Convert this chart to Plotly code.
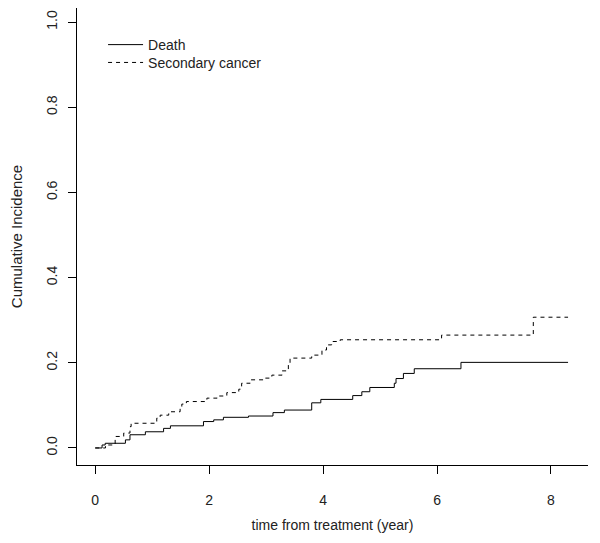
import plotly.graph_objects as go

# Death (solid) cumulative incidence step points
death_time = [0.0, 0.12, 0.175, 0.53, 0.61, 0.88, 1.20, 1.32, 1.90, 2.08, 2.25, 2.69,
              3.12, 3.32, 3.80, 3.96, 4.52, 4.68, 4.82, 5.25, 5.28, 5.41, 5.60, 6.42, 8.30]
death_ci = [0.0, 0.007, 0.011, 0.019, 0.031, 0.038, 0.046, 0.052, 0.062, 0.066, 0.072, 0.075,
            0.083, 0.089, 0.106, 0.114, 0.123, 0.132, 0.142, 0.152, 0.163, 0.175, 0.186, 0.201, 0.201]

# Secondary cancer (dashed) cumulative incidence step points
cancer_time = [0.0, 0.18, 0.35, 0.50, 0.61, 0.63, 1.08, 1.14, 1.29, 1.49, 1.52, 1.60,
               1.96, 2.14, 2.31, 2.52, 2.57, 2.72, 2.95, 3.10, 3.28, 3.39, 3.42, 3.80,
               3.98, 4.06, 4.15, 4.30, 6.08, 7.69, 8.30]
cancer_ci = [0.0, 0.007, 0.027, 0.035, 0.050, 0.058, 0.070, 0.077, 0.085, 0.093, 0.103, 0.109,
             0.117, 0.122, 0.130, 0.138, 0.152, 0.160, 0.164, 0.171, 0.181, 0.195, 0.211, 0.218,
             0.230, 0.242, 0.250, 0.254, 0.265, 0.307, 0.307]

x_ticks = [0, 2, 4, 6, 8]
x_tick_labels = ["0", "2", "4", "6", "8"]
y_ticks = [0.0, 0.2, 0.4, 0.6, 0.8, 1.0]
y_tick_labels = ["0.0", "0.2", "0.4", "0.6", "0.8", "1.0"]

FONT = "Liberation Sans, Arial, sans-serif"
TXT = "#222222"

fig = go.Figure()
fig.add_trace(go.Scatter(x=death_time, y=death_ci, mode="lines", name="Death",
                         legend="legend",
                         line=dict(color="#000000", width=1, shape="hv")))
fig.add_trace(go.Scatter(x=cancer_time, y=cancer_ci, mode="lines", name="Secondary cancer",
                         legend="legend2",
                         line=dict(color="#000000", width=1, shape="hv", dash="4px,4px")))

leg_common = dict(xanchor="left", yanchor="top", bgcolor="rgba(0,0,0,0)", borderwidth=0,
                  font=dict(family=FONT, size=14, color=TXT), itemwidth=35)

fig.update_layout(
    width=592, height=535,
    margin=dict(l=69, r=12, t=0, b=78),
    paper_bgcolor="white", plot_bgcolor="white",
    font=dict(family=FONT, size=14, color=TXT),
    showlegend=True,
    legend=dict(x=0.051, y=0.954, **leg_common),
    legend2=dict(x=0.051, y=0.915, **leg_common),
)
fig.update_xaxes(
    range=[-0.32, 8.65], showgrid=False, zeroline=False,
    showline=True, linecolor="#000000", linewidth=1,
    ticks="outside", ticklen=8, tickcolor="#000000", tickwidth=1,
    tickvals=x_ticks, ticktext=x_tick_labels, ticklabelstandoff=14,
    title=dict(text="time from treatment (year)", standoff=13,
               font=dict(family=FONT, size=14, color=TXT)),
    automargin=False,
)
fig.update_yaxes(
    range=[-0.04, 1.033], showgrid=False, zeroline=False,
    showline=True, linecolor="#000000", linewidth=1,
    ticks="outside", ticklen=8, tickcolor="#000000", tickwidth=1,
    tickvals=y_ticks, ticktext=y_tick_labels, tickangle=-90, ticklabelstandoff=5,
    title=dict(text="Cumulative Incidence", standoff=18,
               font=dict(family=FONT, size=15, color=TXT)),
    automargin=False,
)

fig.write_html("out.html")
